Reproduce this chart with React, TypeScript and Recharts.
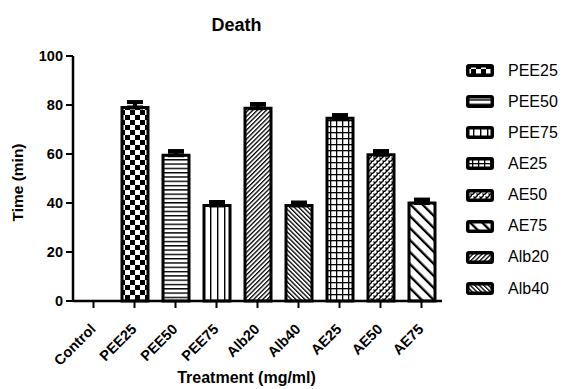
import React from 'react';
import { BarChart, Bar, Cell, XAxis, YAxis, ErrorBar } from 'recharts';

const categories = ['Control', 'PEE25', 'PEE50', 'PEE75', 'Alb20', 'Alb40', 'AE25', 'AE50', 'AE75'];
const meanTime = [0, 79, 59.5, 39, 78.7, 39, 74.6, 59.7, 40];
const semTime = [null, 2.2, 1.7, 1.4, 1.7, 1.2, 1.3, 1.5, 1.4];
const patternIds = ['', 'pat-checker', 'pat-hlines', 'pat-vlines', 'pat-diag-up', 'pat-diag-down', 'pat-grid', 'pat-weave', 'pat-wide-down'];
const legendLabels = ['PEE25', 'PEE50', 'PEE75', 'AE25', 'AE50', 'AE75', 'Alb20', 'Alb40'];
const yTicks = [0, 20, 40, 60, 80, 100];

const data = categories.map((name, i) => ({
  name,
  time: meanTime[i],
  err: semTime[i] == null ? null : [0, semTime[i]],
}));

const FONT = '"Liberation Sans", Arial, sans-serif';

function Patterns() {
  return (
    <defs>
      <pattern id='pat-checker' width={10} height={10} patternUnits='userSpaceOnUse'>
        <rect width={10} height={10} fill='#fff' />
        <rect width={5} height={5} fill='#000' />
        <rect x={5} y={5} width={5} height={5} fill='#000' />
      </pattern>
      <pattern id='pat-hlines' width={4} height={4.3} patternUnits='userSpaceOnUse'>
        <rect width={4} height={4.3} fill='#fff' />
        <rect y={0} width={4} height={1.4} fill='#000' />
      </pattern>
      <pattern id='pat-vlines' width={7} height={7} patternUnits='userSpaceOnUse'>
        <rect width={7} height={7} fill='#fff' />
        <rect x={0} width={1.4} height={7} fill='#000' />
      </pattern>
      <pattern id='pat-diag-up' width={3.2} height={3.2} patternUnits='userSpaceOnUse' patternTransform='rotate(45)'>
        <rect width={3.2} height={3.2} fill='#fff' />
        <rect width={1.3} height={3.2} fill='#000' />
      </pattern>
      <pattern id='pat-diag-down' width={3.2} height={3.2} patternUnits='userSpaceOnUse' patternTransform='rotate(-45)'>
        <rect width={3.2} height={3.2} fill='#fff' />
        <rect width={1.3} height={3.2} fill='#000' />
      </pattern>
      <pattern id='pat-grid' width={6} height={6} patternUnits='userSpaceOnUse'>
        <rect width={6} height={6} fill='#fff' />
        <rect width={6} height={1.3} fill='#000' />
        <rect width={1.3} height={6} fill='#000' />
      </pattern>
      <pattern id='pat-weave' width={6} height={6} patternUnits='userSpaceOnUse'>
        <rect width={6} height={6} fill='#fff' />
        <path d='M0,6 L6,0' stroke='#000' strokeWidth={1.5} />
        <path d='M1.5,1.5 L3,3 M4.5,4.5 L6,6 M-1,5 L0.5,6.5' stroke='#000' strokeWidth={1.3} />
      </pattern>
      <pattern id='pat-wide-down' width={8.5} height={8.5} patternUnits='userSpaceOnUse' patternTransform='rotate(-45)'>
        <rect width={8.5} height={8.5} fill='#fff' />
        <rect width={2.3} height={8.5} fill='#000' />
      </pattern>
    </defs>
  );
}

function XTick({ x, y, payload }: any) {
  const ax = x + 3;
  const ay = y + 20;
  return (
    <text
      x={ax}
      y={ay}
      transform={`rotate(-45, ${ax}, ${ay})`}
      textAnchor='end'
      fontFamily={FONT}
      fontWeight='bold'
      fontSize={14.5}
      fill='#000'
    >
      {payload.value}
    </text>
  );
}

function YLabel({ viewBox }: any) {
  const cx = viewBox.x + 4.5;
  const cy = viewBox.y + viewBox.height / 2 + 4;
  return (
    <text
      x={cx}
      y={cy}
      transform={`rotate(-90, ${cx}, ${cy})`}
      textAnchor='middle'
      dominantBaseline='central'
      fontFamily={FONT}
      fontWeight='bold'
      fontSize={15.5}
    >
      Time (min)
    </text>
  );
}

function XLabel({ viewBox }: any) {
  return (
    <text
      x={viewBox.x + viewBox.width / 2 - 11}
      y={viewBox.y + 82}
      textAnchor='middle'
      fontFamily={FONT}
      fontWeight='bold'
      fontSize={16}
    >
      Treatment (mg/ml)
    </text>
  );
}

export default function App() {
  return (
    <div style={{ position: 'absolute', left: 0, top: 0, width: 562, height: 389, background: '#fff', fontFamily: FONT }}>
      <BarChart width={562} height={389} data={data} margin={{ top: 56, right: 120, left: 13, bottom: 0 }} barSize={26}>
        <Patterns />
        <XAxis
          dataKey='name'
          interval={0}
          height={88}
          tick={<XTick />}
          tickSize={7}
          tickMargin={2}
          axisLine={{ stroke: '#000', strokeWidth: 2.5 }}
          tickLine={{ stroke: '#000', strokeWidth: 2 }}
          label={<XLabel />}
        />
        <YAxis
          domain={[0, 100]}
          ticks={yTicks}
          width={60}
          tickSize={7}
          tickMargin={3}
          axisLine={{ stroke: '#000', strokeWidth: 2.5 }}
          tickLine={{ stroke: '#000', strokeWidth: 2 }}
          tick={{ fill: '#000', fontSize: 14.5, fontWeight: 'bold', fontFamily: FONT }}
          label={<YLabel />}
        />
        <Bar dataKey='time' stroke='#000' strokeWidth={3} isAnimationActive={false}>
          {data.map((d, i) => (
            <Cell key={d.name} fill={patternIds[i] ? `url(#${patternIds[i]})` : 'none'} />
          ))}
          <ErrorBar dataKey='err' width={8} stroke='#000' strokeWidth={4} direction='y' />
        </Bar>
      </BarChart>
      <div style={{ position: 'absolute', left: 0, width: 473, top: 15, lineHeight: '20px', textAlign: 'center', fontWeight: 'bold', fontSize: 18 }}>
        Death
      </div>
      <div style={{ position: 'absolute', left: 466, top: 55 }}>
        {legendLabels.map((label) => (
          <div key={label} style={{ display: 'flex', alignItems: 'center', height: 31.15, fontSize: 16 }}>
            <svg width={28} height={13} style={{ marginRight: 14 }}>
              <rect x={0} y={0} width={28} height={13} rx={3} fill='#000' />
              <rect x={3.5} y={3.5} width={21} height={6} fill={`url(#${patternIds[categories.indexOf(label)]})`} />
            </svg>
            <span>{label}</span>
          </div>
        ))}
      </div>
    </div>
  );
}
